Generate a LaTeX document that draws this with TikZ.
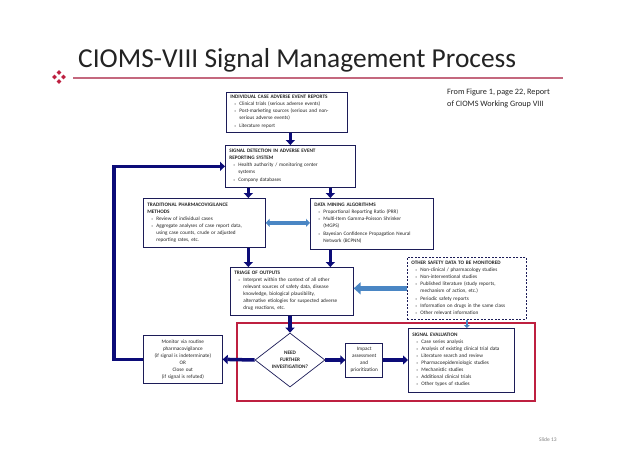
\documentclass[tikz,border=0pt]{standalone}
\usepackage{fontspec}
\setmainfont{Carlito}
\usepackage{graphicx}
\usepackage{tikz}
\usetikzlibrary{arrows.meta,positioning,shapes.geometric,calc}
\definecolor{ciomsnavy}{RGB}{12,12,120}
\definecolor{ciomsframe}{RGB}{28,28,88}
\definecolor{ciomsblue}{RGB}{74,134,196}
\definecolor{ciomsred}{RGB}{190,32,64}
\definecolor{ciomsrose}{RGB}{196,104,126}
\definecolor{ciomstext}{RGB}{35,35,35}
\newcommand\bul[1]{\par\noindent\hspace*{4pt}\makebox[5pt][l]{\color{gray}\scalebox{0.7}{\textbullet}}%
  \parbox[t]{\dimexpr\hsize-9pt\relax}{\raggedright\strut #1\strut}}
\tikzset{
  cioms box/.style={
    draw=ciomsframe,
    line width=0.7pt,
    fill=white,
    inner xsep=4pt,
    inner ysep=2pt,
    align=left,
    anchor=north west,
    text=ciomstext,
    font=\fontsize{5.2}{7}\selectfont,
  },
  cioms arrow/.style={
    -{Triangle[length=5pt,width=9pt]},
    line width=3.5pt,
    draw=ciomsnavy,
  },
  cioms link/.style={
    line width=4pt,
    draw=ciomsblue,
  },
}

\begin{document}
\begin{tikzpicture}[x=1pt,y=-1pt]
  \useasboundingbox[fill=white] (0,0) rectangle (638,451);
  % title and ornament
  \node[anchor=base west, inner sep=0, text=ciomstext,
    font=\fontsize{27.4}{32}\selectfont] (title) at (78,67) {CIOMS-VIII Signal Management Process};
  \draw[ciomsrose, line width=1.8pt] (73,78) -- (563,78);
  \foreach \dx/\dy in {0/-4.5,-4.5/0,4.5/0,0/4.5}
    \fill[ciomsred] ($(59,77)+(\dx,\dy)$) +(0,-2.4) -- +(2.4,0) -- +(0,2.4) -- +(-2.4,0) -- cycle;
  \node[anchor=north west, align=left, inner sep=0, text=ciomstext,
    font=\fontsize{8.2}{12}\selectfont] (source) at (447,89)
    {From Figure 1, page 22, Report\\of CIOMS Working Group VIII};
  \node[anchor=base west, inner sep=0, text=gray, font=\fontsize{5.5}{6}\selectfont] (slide) at (539,441) {Slide 13};

  % boxes
  \node[cioms box, text width=113pt, minimum height=40pt] (icsr) at (226,92)
    {\textbf{INDIVIDUAL CASE ADVERSE EVENT REPORTS}
     \bul{Clinical trials (serious adverse events)}
     \bul{Post-marketing sources (serious and non-\\serious adverse events)}
     \bul{Literature report}};
  \node[cioms box, text width=122pt, minimum height=42pt] (detect) at (225,145)
    {\textbf{SIGNAL DETECTION IN ADVERSE EVENT}\\\textbf{REPORTING SYSTEM}
     \bul{Health authority / monitoring center\\systems}
     \bul{Company databases}};
  \node[cioms box, text width=114pt, minimum height=49pt] (trad) at (143,198)
    {\textbf{TRADITIONAL PHARMACOVIGILANCE}\\\textbf{METHODS}
     \bul{Review of individual cases}
     \bul{Aggregate analyses of case report data,\\using case counts, crude or adjusted\\reporting rates, etc.}};
  \node[cioms box, text width=115pt, minimum height=51pt] (mining) at (310,198)
    {\textbf{DATA MINING ALGORITHMS}
     \bul{Proportional Reporting Ratio (PRR)}
     \bul{Multi-Item Gamma-Poisson Shrinker\\(MGPS)}
     \bul{Bayesian Confidence Propagation Neural\\Network (BCPNN)}};
  \node[cioms box, text width=115pt, minimum height=48pt] (triage) at (230,267)
    {\textbf{TRIAGE OF OUTPUTS}
     \bul{Interpret within the context of all other\\relevant sources of safety data, disease\\knowledge, biological plausibility,\\alternative etiologies for suspected adverse\\drug reactions, etc.}};
  \node[cioms box, text width=111pt, minimum height=62pt,
    dash pattern=on 2pt off 1.5pt] (other) at (407,257)
    {\textbf{OTHER SAFETY DATA TO BE MONITORED}
     \bul{Non-clinical / pharmacology studies}
     \bul{Non-interventional studies}
     \bul{Published literature (study reports,\\mechanism of action, etc.)}
     \bul{Periodic safety reports}
     \bul{Information on drugs in the same class}
     \bul{Other relevant information}};
  \node[cioms box, text width=71pt, minimum height=48pt, align=center] (monitor) at (143,335)
    {Monitor via routine\\pharmacovigilance\\(if signal is indeterminate)\\OR\\Close out\\(if signal is refuted)};
  \node[diamond, draw=ciomsframe, line width=0.7pt, fill=white, inner sep=0, shape aspect=1.3,
    minimum width=70pt, minimum height=54pt, align=center, text=ciomstext,
    font=\fontsize{5.2}{7}\selectfont\bfseries] (need) at (290,360)
    {NEED\\FURTHER\\INVESTIGATION?};
  \node[draw=ciomsframe, line width=0.7pt, fill=white, inner sep=1pt, align=center,
    minimum width=37pt, minimum height=34pt, text=ciomstext,
    font=\fontsize{5.2}{7}\selectfont, right=20pt of need] (impact)
    {Impact\\assessment\\and\\prioritization};
  \node[cioms box, text width=98pt, minimum height=64pt] (sigeval) at (408,328)
    {\textbf{SIGNAL EVALUATION}
     \bul{Case series analysis}
     \bul{Analysis of existing clinical trial data}
     \bul{Literature search and review}
     \bul{Pharmacoepidemiologic studies}
     \bul{Mechanistic studies}
     \bul{Additional clinical trials}
     \bul{Other types of studies}};

  % red frame round the evaluation steps
  \draw[ciomsred, line width=2.4pt] (237,323) rectangle (535,401);

  % connectors
  \draw[cioms arrow] (icsr.south -| detect) -- (detect.north);
  \draw[cioms arrow] ([xshift=-42pt]detect.south) -- ([xshift=-42pt]detect.south |- trad.north);
  \draw[cioms arrow] ([xshift=40pt]detect.south) -- ([xshift=40pt]detect.south |- mining.north);
  \draw[cioms arrow] ([xshift=44pt]trad.south) -- ([xshift=44pt]trad.south |- triage.north);
  \draw[cioms arrow] ([xshift=-41.5pt]mining.south) -- ([xshift=-41.5pt]mining.south |- triage.north);
  \draw[cioms arrow] (triage.south -| need) -- (need.north);
  \draw[cioms arrow] (need.west) -- (monitor.east);
  \draw[cioms arrow] (need.east) -- (impact.west);
  \draw[cioms arrow] (impact.east) -- (impact.east -| sigeval.west);
  \draw[cioms arrow] (monitor.west) -- ++(-29pt,0) |- (detect.west);
  \draw[cioms link, {Triangle[length=4pt,width=8pt]}-{Triangle[length=4pt,width=8pt]}]
    (trad.east) -- (trad.east -| mining.west);
  \draw[cioms link, line width=5pt, -{Triangle[length=7pt,width=12pt]}]
    (other.west) -- (other.west -| triage.east);
  \draw[cioms link, line width=2pt, -{Triangle[length=3pt,width=6pt]}]
    (other.south) -- (other.south |- sigeval.north);
\end{tikzpicture}
\end{document}
